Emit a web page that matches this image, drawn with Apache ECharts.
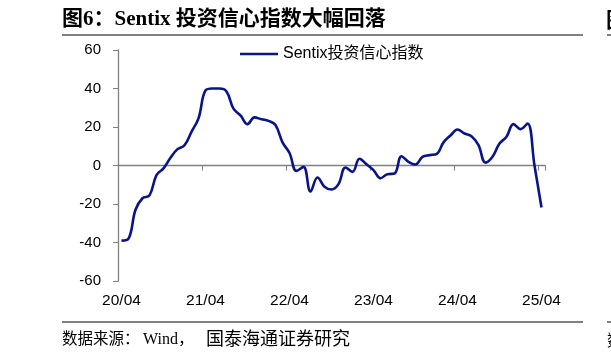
<!DOCTYPE html>
<html>
<head>
<meta charset="utf-8">
<script src="https://cdn.jsdelivr.net/npm/echarts@6/dist/echarts.min.js"></script>
<style>
html,body{margin:0;padding:0;background:#fff;}
#c{width:611px;height:354px;}
</style>
</head>
<body>
<div id="c"></div>
<script>
var categories = [
  '20/04','20/05','20/06','20/07','20/08','20/09','20/10','20/11','20/12','21/01','21/02','21/03',
  '21/04','21/05','21/06','21/07','21/08','21/09','21/10','21/11','21/12','22/01','22/02','22/03',
  '22/04','22/05','22/06','22/07','22/08','22/09','22/10','22/11','22/12','23/01','23/02','23/03',
  '23/04','23/05','23/06','23/07','23/08','23/09','23/10','23/11','23/12','24/01','24/02','24/03',
  '24/04','24/05','24/06','24/07','24/08','24/09','24/10','24/11','24/12','25/01','25/02','25/03',
  '25/04'
];
var sentix = [
  -39, -38, -23, -17, -15.5, -5, -1.5, 4, 8.5, 10.5, 17.5, 24.5,
  39, 40, 40, 38.5, 29.5, 26, 21.5, 25, 24, 23.2, 21, 12,
  6.5, -2.8, -0.7, -13.5, -6.2, -11, -12.5, -9.7, -1, -3.3, 3.5, 0.7,
  -2.4, -6.6, -4.5, -4.2, 4.8, 1.9, 0.5, 4.5, 5.4, 5.9, 12, 15.6,
  18.7, 16.6, 15.2, 10.6, 1.5, 4.5, 11.4, 14.9, 21.5, 18.9, 21.8, 0,
  -21.8
];
var seriesName = 'Sentix投资信心指数';
var titleText = '图6：Sentix 投资信心指数大幅回落';
var sourceParts = ['数据来源：', 'Wind，', '国泰海通证券研究'];
var yTicks = { min: -60, max: 60, interval: 20 };

var chart = echarts.init(document.getElementById('c'), null, {renderer: 'canvas'});
var axisGray = '#808080';
var serifCJK = '"Liberation Serif", "Noto Sans CJK SC", serif';
var sansCJK = '"Liberation Sans", "Noto Sans CJK SC", sans-serif';
var option = {
  animation: false,
  backgroundColor: '#ffffff',
  grid: { left: 118, right: 66, top: 50, bottom: 73, containLabel: false },
  legend: {
    left: 240, top: 46, padding: 0,
    itemWidth: 38, itemHeight: 15, itemGap: 5,
    textStyle: { fontSize: 16, color: '#000', fontFamily: sansCJK },
    data: [{ name: seriesName, icon: 'path://M0,0 L38,0 L38,2.5 L0,2.5 Z' }]
  },
  xAxis: [
    {
      type: 'category', data: categories, boundaryGap: true,
      axisLine: { onZero: true, lineStyle: { color: axisGray, width: 1.3 } },
      axisTick: { show: true, interval: 11, length: 5, inside: false, lineStyle: { color: axisGray } },
      axisLabel: { show: false },
      splitLine: { show: false }
    },
    {
      type: 'category', data: categories, boundaryGap: true, position: 'bottom',
      axisLine: { show: false, onZero: false },
      axisTick: { show: false },
      axisLabel: { show: true, interval: 11, margin: 12, fontSize: 15.5, color: '#000', fontFamily: sansCJK },
      splitLine: { show: false }
    }
  ],
  yAxis: {
    type: 'value', min: yTicks.min, max: yTicks.max, interval: yTicks.interval,
    axisLine: { show: true, onZero: false, lineStyle: { color: axisGray, width: 1.3 } },
    axisTick: { show: true, length: 5, inside: false, lineStyle: { color: axisGray } },
    axisLabel: { margin: 17, fontSize: 15, color: '#000', fontFamily: sansCJK },
    splitLine: { show: false }
  },
  series: [{
    name: seriesName, type: 'line', data: sentix, xAxisIndex: 0,
    smooth: 0.4, symbol: 'none', showSymbol: false,
    lineStyle: { color: '#0a1489', width: 2.6 },
    itemStyle: { color: '#0a1489' }
  }],
  graphic: [
    { type: 'text', left: 62, top: 9, style: { text: titleText, fontSize: 21, fontWeight: 'bold', fill: '#000', fontFamily: serifCJK } },
    { type: 'rect', shape: { x: 62, y: 34, width: 521, height: 2 }, style: { fill: axisGray } },
    { type: 'rect', shape: { x: 607, y: 34, width: 10, height: 2 }, style: { fill: axisGray } },
    { type: 'text', left: 606, top: 9, style: { text: '图', fontSize: 21, fontWeight: 'bold', fill: '#000', fontFamily: '"Noto Sans CJK SC", serif' } },
    { type: 'rect', shape: { x: 62, y: 321, width: 521, height: 2 }, style: { fill: axisGray } },
    { type: 'rect', shape: { x: 607, y: 321, width: 10, height: 2 }, style: { fill: axisGray } },
    { type: 'text', left: 62, top: 332, style: { text: sourceParts[0], fontSize: 15.5, fill: '#000', fontFamily: serifCJK } },
    { type: 'text', left: 143, top: 332, style: { text: sourceParts[1], fontSize: 16, fill: '#000', fontFamily: serifCJK } },
    { type: 'text', left: 206, top: 331, style: { text: sourceParts[2], fontSize: 18, fill: '#000', fontFamily: serifCJK } },
    { type: 'text', left: 607, top: 332, style: { text: '数', fontSize: 16, fill: '#000', fontFamily: '"Noto Sans CJK SC", serif' } }
  ]
};
chart.setOption(option);
</script>
</body>
</html>
